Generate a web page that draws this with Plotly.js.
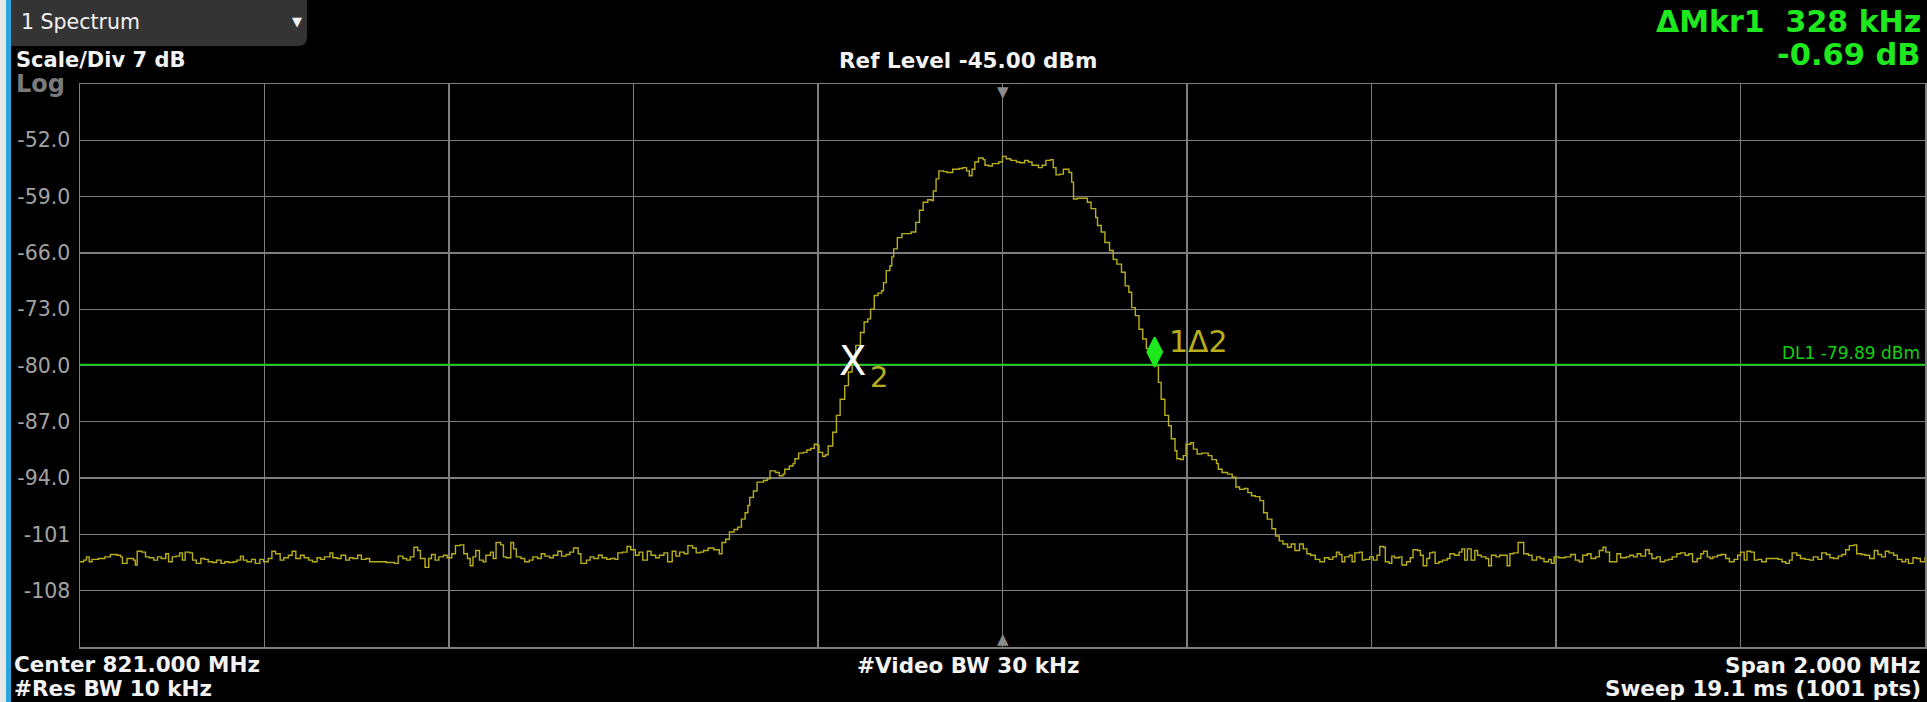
<!DOCTYPE html>
<html><head><meta charset="utf-8">
<script src="https://cdn.plot.ly/plotly-3.0.1.min.js"></script>
<style>html,body{margin:0;padding:0;background:#000;overflow:hidden}#chart{width:1927px;height:702px}</style>
</head><body><div id="chart"></div>
<script>
// ---- instrument settings ----
const centerFreqMHz = 821.0;
const spanMHz = 2.0;
const refLevelDbm = -45;
const scaleDivDb = 7;
const numDivisions = 10;
const displayLineDbm = -79.89;

// ---- y tick labels ----
const yTickVals = [-52, -59, -66, -73, -80, -87, -94, -101, -108];
const yTickText = ["-52.0", "-59.0", "-66.0", "-73.0", "-80.0", "-87.0", "-94.0", "-101", "-108"];

// ---- markers: [marker 1 (delta), marker 2 (reference)] ----
const markerFreqMHz = [821.165, 820.837];
const markerLevelDbm = [-80.2, -79.5];

// ---- trace 1 ----
const traceFreqMHz = [
820.000,820.004,820.007,820.010,820.013,820.020,820.027,820.033,820.040,820.044,820.046,820.051,820.058,820.060,820.062,820.067,820.071,820.075,820.080,820.084,
820.088,820.093,820.096,820.100,820.104,820.108,820.111,820.114,820.119,820.122,820.126,820.131,820.135,820.139,820.144,820.148,820.153,820.157,820.161,820.166,
820.170,820.174,820.177,820.181,820.186,820.190,820.195,820.199,820.204,820.208,820.212,820.217,820.221,820.226,820.230,820.234,820.239,820.243,820.248,820.252,
820.257,820.261,820.265,820.271,820.274,820.279,820.283,820.288,820.292,820.296,820.301,820.305,820.310,820.314,820.319,820.323,820.332,820.341,820.345,820.350,
820.354,820.358,820.362,820.366,820.369,820.374,820.378,820.381,820.385,820.389,820.394,820.398,820.403,820.407,820.412,820.416,820.420,820.423,820.426,820.429,
820.433,820.437,820.440,820.445,820.448,820.451,820.456,820.459,820.462,820.467,820.470,820.473,820.478,820.482,820.487,820.491,820.496,820.500,820.504,820.509,
820.513,820.518,820.522,820.527,820.531,820.535,820.540,820.543,820.549,820.553,820.557,820.562,820.566,820.571,820.575,820.580,820.583,820.588,820.593,820.597,
820.602,820.606,820.610,820.615,820.619,820.624,820.628,820.633,820.637,820.642,820.646,820.650,820.655,820.659,820.664,820.668,
820.672,820.676,820.681,820.687,820.693,820.696,820.700,820.704,820.709,820.713,820.717,820.721,820.724,820.726,820.730,820.734,820.741,820.745,820.748,820.754,
820.758,820.762,820.764,820.769,820.773,820.775,820.779,820.784,820.788,820.792,820.796,820.799,820.801,820.805,820.808,820.811,820.816,820.820,820.824,820.829,
820.833,820.837,820.841,820.846,820.850,820.854,820.857,820.861,820.865,820.869,820.871,820.874,820.878,820.880,820.882,820.886,820.891,820.897,820.901,820.906,
820.910,820.914,820.919,820.923,820.925,820.928,820.931,820.936,820.940,820.946,820.953,820.957,820.961,820.964,820.967,820.970,820.974,820.979,820.981,820.985,
820.989,820.996,821.000,821.004,821.009,821.015,821.019,821.024,821.028,821.032,821.039,821.043,821.047,821.052,821.055,821.058,821.062,821.066,821.072,821.075,
821.077,821.081,821.088,821.092,821.096,821.101,821.103,821.107,821.111,821.116,821.120,821.124,821.129,821.133,821.137,821.140,821.144,821.148,821.152,821.156,
821.161,821.165,821.169,821.172,821.176,821.180,821.183,821.187,821.189,821.193,821.196,821.199,821.204,821.207,821.211,821.216,821.223,821.227,821.232,821.234,
821.238,821.244,821.249,821.253,821.257,821.262,821.266,821.270,821.274,821.279,821.283,821.287,821.292,821.296,821.300,821.304,821.309,821.313,821.317,821.322,
821.326,821.330,821.334,821.339,821.344,
821.349,821.354,821.358,821.362,821.365,821.368,821.371,821.376,821.379,821.382,821.387,821.390,821.393,821.398,821.402,821.406,821.409,821.413,821.415,821.419,
821.422,821.425,821.430,821.433,821.438,821.442,821.445,821.450,821.453,821.456,821.460,821.463,821.466,821.469,821.473,821.477,821.482,821.485,821.490,821.495,
821.498,821.501,821.504,821.508,821.512,821.515,821.519,821.524,821.527,821.530,821.535,821.539,821.543,821.547,821.550,821.554,821.559,821.563,821.565,821.570,
821.574,821.579,821.583,821.587,821.592,821.595,821.598,821.603,821.610,821.616,821.621,821.625,821.629,821.634,821.638,821.643,821.647,821.651,821.654,821.658,
821.662,821.666,821.670,821.676,821.680,821.684,821.688,821.692,821.697,821.701,821.704,821.709,821.713,821.718,821.722,821.726,821.731,821.735,821.740,821.744,
821.748,821.753,821.757,821.760,821.764,821.767,821.770,821.775,821.779,821.784,821.788,821.793,821.797,821.800,821.804,821.807,821.811,821.815,821.819,821.823,
821.828,821.834,821.841,821.845,821.849,821.853,821.856,821.861,821.865,821.870,821.875,821.879,821.884,821.888,821.893,821.897,821.901,821.906,821.910,821.914,
821.918,821.923,821.926,821.931,821.935,821.940,821.945,821.949,821.953,821.957,821.961,821.966,821.970,821.975,821.979,821.982,821.987,821.991,821.995,822.000
];
const traceLevelDbm = [
-104.4,-104.2,-103.8,-104.4,-104.1,-104.0,-103.8,-103.5,-103.6,-103.8,-104.6,-104.0,-104.2,-104.8,-103.1,-103.2,-103.8,-103.9,-104.2,-103.8,
-104.0,-103.4,-104.4,-103.8,-103.7,-103.3,-104.2,-103.2,-103.3,-104.2,-104.6,-104.0,-104.1,-104.4,-104.5,-104.2,-104.6,-104.4,-104.5,-104.4,
-104.2,-103.7,-104.2,-104.4,-104.1,-104.6,-104.1,-104.4,-104.0,-103.1,-103.4,-104.2,-103.9,-103.6,-103.1,-104.0,-103.6,-103.9,-104.2,-104.4,
-103.9,-104.1,-103.8,-103.3,-103.9,-104.0,-103.6,-104.2,-103.9,-104.0,-103.6,-104.1,-104.0,-104.4,-104.4,-104.4,-104.5,-104.6,-103.7,-104.0,
-104.2,-103.8,-102.6,-103.0,-104.0,-105.1,-104.0,-103.5,-104.2,-103.8,-103.6,-103.9,-103.4,-102.4,-102.3,-103.4,-104.0,-104.9,-103.8,-103.0,
-104.2,-104.4,-103.6,-103.2,-104.0,-102.0,-102.3,-103.8,-103.9,-102.0,-102.8,-103.8,-104.0,-104.4,-104.2,-103.8,-104.0,-103.4,-103.7,-103.9,
-103.6,-103.1,-103.7,-103.5,-103.2,-102.7,-103.4,-104.6,-104.2,-103.8,-104.0,-103.6,-103.9,-104.1,-104.0,-104.1,-103.3,-103.2,-102.5,-102.9,
-103.6,-103.2,-104.2,-103.1,-103.6,-103.9,-103.6,-103.3,-104.4,-103.1,-103.7,-103.2,-103.4,-102.4,-102.7,-103.3,
-103.2,-103.0,-102.7,-102.9,-103.4,-102.0,-101.6,-100.7,-100.4,-100.1,-99.1,-98.3,-97.4,-96.4,-95.6,-94.5,-94.3,-94.1,-93.1,-93.3,
-93.7,-93.5,-92.9,-92.5,-92.2,-91.6,-90.9,-90.8,-90.5,-90.3,-89.8,-89.9,-90.8,-91.3,-91.1,-90.0,-88.3,-86.2,-84.2,-82.5,
-80.8,-79.2,-77.5,-75.9,-74.6,-74.2,-73.0,-71.3,-71.0,-70.7,-69.7,-68.2,-67.6,-66.5,-65.5,-64.1,-63.6,-63.6,-63.4,-62.2,
-60.7,-59.7,-59.4,-59.5,-58.3,-56.8,-55.8,-55.9,-56.0,-55.6,-55.5,-55.4,-55.8,-56.4,-55.6,-54.7,-54.2,-54.4,-55.1,-55.2,
-54.9,-54.7,-54.0,-54.3,-54.5,-54.7,-54.8,-54.5,-54.7,-55.1,-55.4,-55.1,-54.5,-54.4,-55.4,-56.3,-56.2,-55.6,-56.0,-57.2,
-59.3,-59.2,-59.2,-59.7,-60.5,-61.6,-62.6,-63.4,-64.7,-65.7,-66.8,-67.4,-68.4,-70.1,-70.9,-72.8,-73.8,-75.5,-76.7,-77.9,
-79.2,-80.0,-82.1,-84.2,-86.2,-87.5,-89.1,-90.6,-91.6,-91.7,-91.2,-89.8,-89.6,-90.4,-91.0,-90.9,-91.2,-91.7,-92.2,-92.9,
-93.3,-93.5,-93.9,-95.1,-95.4,-95.3,-95.8,-96.2,-96.3,-96.8,-98.3,-99.1,-100.3,-101.2,-101.8,-102.2,-102.6,-102.2,-103.0,-102.2,
-102.8,-103.4,-103.6,-104.1,-104.4,
-103.9,-104.1,-103.8,-103.2,-103.5,-104.4,-103.8,-103.6,-104.4,-103.3,-103.2,-104.2,-104.1,-103.8,-104.2,-103.6,-102.5,-102.6,-104.4,-104.6,
-103.7,-103.9,-103.8,-104.8,-104.4,-103.9,-102.9,-103.0,-103.6,-104.9,-104.0,-103.3,-103.2,-104.6,-104.4,-104.2,-104.0,-103.4,-103.6,-103.2,
-102.8,-104.2,-102.8,-104.2,-103.0,-103.6,-103.8,-104.0,-104.9,-103.6,-103.8,-103.6,-103.6,-104.9,-103.4,-103.3,-102.0,-102.0,-103.4,-103.6,
-104.2,-103.8,-104.0,-104.4,-104.1,-104.6,-103.8,-103.9,-103.8,-103.5,-104.2,-104.4,-103.6,-103.4,-104.0,-103.8,-103.0,-102.6,-103.2,-104.4,
-104.4,-103.4,-103.9,-103.8,-103.6,-103.8,-103.4,-103.7,-102.9,-103.4,-104.0,-103.8,-104.4,-104.2,-104.1,-103.8,-103.4,-103.3,-103.6,-103.4,
-104.4,-104.0,-103.4,-103.1,-103.8,-104.0,-103.8,-103.6,-103.5,-104.0,-104.4,-104.1,-103.6,-103.2,-104.2,-103.1,-103.2,-104.2,-104.1,-104.4,
-104.0,-104.0,-104.1,-104.4,-104.6,-104.2,-103.3,-103.6,-104.0,-104.1,-104.2,-103.8,-104.1,-103.3,-103.5,-103.9,-104.0,-103.7,-103.5,-102.9,
-102.4,-102.3,-103.4,-103.5,-103.6,-104.0,-103.0,-103.5,-103.8,-103.1,-103.3,-103.6,-104.1,-104.4,-104.1,-104.6,-103.9,-104.0,-104.4,-103.8
];

// ---- geometry helpers (layout only) ----
const W = 1927, H = 702, ML = 80, MR = 2, MT = 84, MB = 55;
const PW = W - ML - MR, PH = H - MT - MB;
const px = v => (v - ML) / PW;          // screen x -> paper x
const py = v => (H - MB - v) / PH;      // screen y -> paper y

const FONT = "DejaVu Sans";
const WHITE = "#f2f2f2";
const GREEN = "#1ee81e";
const YEL = "#b8ae1c";
const GRID = "#7e7e7e";

const xRange = [centerFreqMHz - spanMHz / 2, centerFreqMHz + spanMHz / 2];
const yRange = [refLevelDbm - scaleDivDb * numDivisions, refLevelDbm];

const traces = [
  {
    type: "scatter", mode: "lines", x: traceFreqMHz, y: traceLevelDbm,
    line: {color: YEL, width: 1.4, shape: "hv"}, hoverinfo: "skip"
  },
  {
    type: "scatter", mode: "lines", x: xRange, y: [displayLineDbm, displayLineDbm],
    line: {color: "#12d012", width: 1.6}, hoverinfo: "skip"
  },
  {
    type: "scatter", mode: "markers", x: [markerFreqMHz[0]], y: [markerLevelDbm[0]],
    marker: {symbol: "diamond-tall", size: 21, color: GREEN, angle: 180, standoff: 15,
             line: {color: GREEN, width: 2}},
    cliponaxis: false, hoverinfo: "skip"
  }
];

function txt(text, x, y, xanchor, size, color, bold, extra) {
  return Object.assign({
    text: text, xref: "paper", yref: "paper", x: px(x), y: py(y),
    xanchor: xanchor, yanchor: "middle", showarrow: false,
    font: {family: FONT, size: size, color: color, weight: bold ? 700 : 400}
  }, extra || {});
}

const annotations = [
  txt("1 Spectrum", 19, 22.5, "left", 20.5, WHITE, false),
  txt("▼", 297, 22, "center", 13, WHITE, false),
  txt("Scale/Div " + scaleDivDb + " dB", 14, 60.5, "left", 21, WHITE, true),
  txt("Log", 14, 84, "left", 24, "#7a7a7a", true),
  txt("Ref Level " + refLevelDbm.toFixed(2) + " dBm", 968, 60.8, "center", 21.5, WHITE, true),
  txt("ΔMkr1\u00a0\u00a0328 kHz", 1923, 21, "right", 30, GREEN, true),
  txt("-0.69 dB", 1923, 54.5, "right", 30.5, GREEN, true),
  txt("Center " + centerFreqMHz.toFixed(3) + " MHz", 12, 664, "left", 21.5, WHITE, true),
  txt("#Res BW 10 kHz", 12, 688.5, "left", 21.5, WHITE, true),
  txt("#Video BW 30 kHz", 968, 665, "center", 21.5, WHITE, true),
  txt("Span " + spanMHz.toFixed(3) + " MHz", 1923, 665, "right", 21.5, WHITE, true),
  txt("Sweep 19.1 ms (1001 pts)", 1923, 688.5, "right", 21.5, WHITE, true),
  // display line label
  {text: "DL1 " + displayLineDbm.toFixed(2) + " dBm", xref: "paper", yref: "y", x: 1, y: displayLineDbm,
   xanchor: "right", yanchor: "bottom", xshift: -3, showarrow: false,
   font: {family: FONT, size: 17, color: "#12d012"}},
  // center frequency indicators
  {text: "▼", xref: "x", yref: "paper", x: centerFreqMHz, y: 1, xanchor: "center", yanchor: "top",
   yshift: 3, showarrow: false, font: {family: FONT, size: 15, color: "#8c8c8c"}},
  {text: "▲", xref: "x", yref: "paper", x: centerFreqMHz, y: 0, xanchor: "center", yanchor: "bottom",
   yshift: -3, showarrow: false, font: {family: FONT, size: 15, color: "#8c8c8c"}},
  // marker 2 (reference) X
  {text: "X", xref: "x", yref: "y", x: markerFreqMHz[1], y: markerLevelDbm[1], xanchor: "center", yanchor: "middle",
   showarrow: false, font: {family: FONT, size: 40, color: "#ffffff"}},
  {text: "2", xref: "x", yref: "y", x: markerFreqMHz[1], y: markerLevelDbm[1], xanchor: "center", yanchor: "middle",
   xshift: 27, yshift: -16, showarrow: false, font: {family: FONT, size: 29, color: YEL}},
  // marker 1 (delta) label
  {text: "1Δ2", xref: "x", yref: "y", x: markerFreqMHz[0], y: markerLevelDbm[0], xanchor: "left", yanchor: "middle",
   xshift: 12, yshift: 26, showarrow: false, font: {family: FONT, size: 30, color: YEL}}
];

// window tab with a rounded lower-right corner (paper coordinates)
const rx = 9 / PW, ry = 9 / PH;
const tabX0 = px(11), tabX1 = px(307), tabY0 = py(46), tabY1 = py(-2);
const tabPath = "M" + tabX0 + "," + tabY1 + " L" + tabX1 + "," + tabY1 +
  " L" + tabX1 + "," + (tabY0 + ry) + " Q" + tabX1 + "," + tabY0 + " " + (tabX1 - rx) + "," + tabY0 +
  " L" + tabX0 + "," + tabY0 + " Z";

const shapes = [
  {type: "path", xref: "paper", yref: "paper", path: tabPath,
   fillcolor: "#343434", line: {width: 0}, layer: "below"},
  // left edge strips
  {type: "rect", xref: "paper", yref: "paper", x0: px(-2), x1: px(6), y0: py(H + 5), y1: py(-5),
   fillcolor: "#e6e6e6", line: {width: 0}},
  {type: "rect", xref: "paper", yref: "paper", x0: px(6), x1: px(11), y0: py(H + 5), y1: py(-5),
   fillcolor: "#2aa6dc", line: {width: 0}}
];

const axisCommon = {
  showgrid: true, gridcolor: GRID, gridwidth: 1.3,
  showline: true, linecolor: GRID, linewidth: 1.5, mirror: true,
  zeroline: false, ticks: "", fixedrange: true
};

const layout = {
  width: W, height: H,
  margin: {l: ML, r: MR, t: MT, b: MB, pad: 0},
  paper_bgcolor: "#000000", plot_bgcolor: "#000000",
  showlegend: false,
  xaxis: Object.assign({}, axisCommon, {
    range: xRange, tick0: xRange[0], dtick: spanMHz / numDivisions, showticklabels: false
  }),
  yaxis: Object.assign({}, axisCommon, {
    range: yRange, tickmode: "array", tickvals: yTickVals, ticktext: yTickText,
    tickfont: {family: FONT, size: 20.5, color: "#a2a2a2"}, ticklabelstandoff: 4
  }),
  annotations: annotations,
  shapes: shapes
};

Plotly.newPlot("chart", traces, layout, {staticPlot: true, displayModeBar: false});
</script>
</body></html>
